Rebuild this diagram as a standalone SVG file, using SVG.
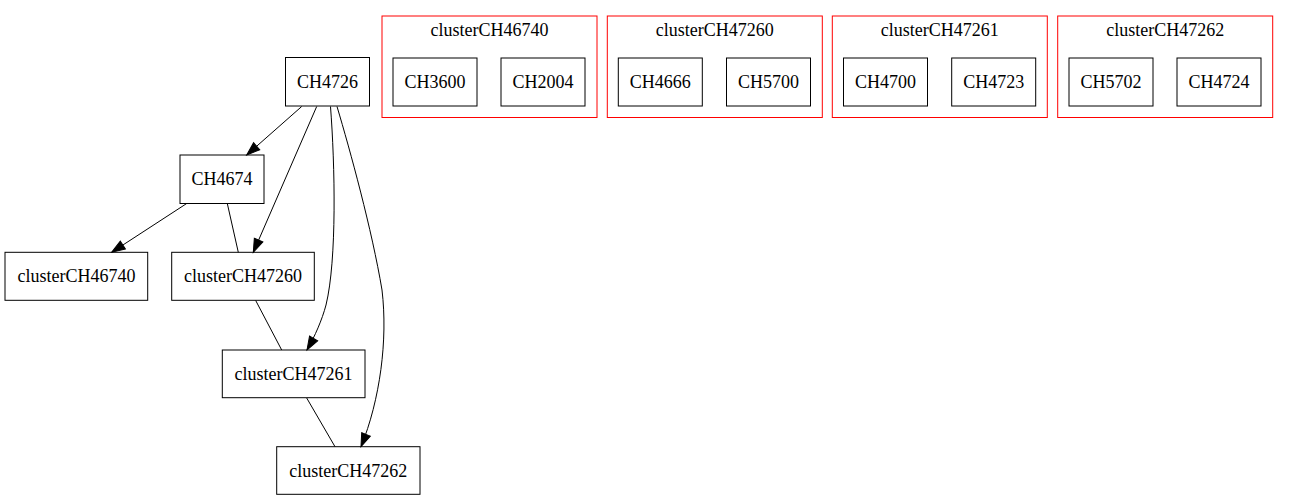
<svg xmlns="http://www.w3.org/2000/svg" width="1289" height="501" viewBox="0 0 1289 501">
<style>
.node rect{fill:none;stroke:#000;stroke-width:1}
.cluster rect{fill:none;stroke:#ff0000;stroke-width:1}
text{font-family:"Liberation Serif",Times,serif;font-size:18px;fill:#000;text-anchor:middle}
.edges path{fill:none;stroke:#000;stroke-width:1}
</style>
<defs>
<marker id="arr" markerUnits="userSpaceOnUse" viewBox="0 0 14 10" markerWidth="14" markerHeight="10" refX="13.3" refY="4.67" orient="auto" overflow="visible">
<path d="M0,0 L13.3,4.67 L0,9.33 z" fill="#000" stroke="#000" stroke-width="1"/>
</marker>
</defs>
<rect width="1289" height="501" fill="#fff"/>

<g id="clusterCH46740" class="cluster">
<rect x="382" y="16" width="215" height="101.5"/>
<text x="489.5" y="36">clusterCH46740</text>
</g>
<g id="clusterCH47260_box" class="cluster">
<rect x="607.3" y="16" width="215" height="101.5"/>
<text x="714.8" y="36">clusterCH47260</text>
</g>
<g id="clusterCH47261_box" class="cluster">
<rect x="832.3" y="16" width="215" height="101.5"/>
<text x="939.8" y="36">clusterCH47261</text>
</g>
<g id="clusterCH47262_box" class="cluster">
<rect x="1057.7" y="16" width="215" height="101.5"/>
<text x="1165.2" y="36">clusterCH47262</text>
</g>

<g id="CH3600" class="node"><rect x="393" y="58" width="84" height="48"/><text x="435" y="88">CH3600</text></g>
<g id="CH2004" class="node"><rect x="501" y="58" width="84" height="48"/><text x="543" y="88">CH2004</text></g>
<g id="CH4666" class="node"><rect x="618.3" y="58" width="84" height="48"/><text x="660.3" y="88">CH4666</text></g>
<g id="CH5700" class="node"><rect x="726.5" y="58" width="84" height="48"/><text x="768.5" y="88">CH5700</text></g>
<g id="CH4700" class="node"><rect x="843.5" y="58" width="84" height="48"/><text x="885.5" y="88">CH4700</text></g>
<g id="CH4723" class="node"><rect x="951.7" y="58" width="84" height="48"/><text x="993.7" y="88">CH4723</text></g>
<g id="CH5702" class="node"><rect x="1069" y="58" width="84" height="48"/><text x="1111" y="88">CH5702</text></g>
<g id="CH4724" class="node"><rect x="1177" y="58" width="84" height="48"/><text x="1219" y="88">CH4724</text></g>

<g id="CH4726" class="node"><rect x="285.5" y="57.5" width="84" height="48.5"/><text x="327.5" y="87.5">CH4726</text></g>
<g id="CH4674" class="node"><rect x="180" y="155" width="84" height="48.5"/><text x="222" y="185">CH4674</text></g>
<g id="n_clusterCH46740" class="node"><rect x="5" y="252.3" width="142.7" height="48"/><text x="76.4" y="282.3">clusterCH46740</text></g>
<g id="n_clusterCH47260" class="node"><rect x="171.7" y="252.3" width="142.6" height="48"/><text x="243" y="282.3">clusterCH47260</text></g>
<g id="n_clusterCH47261" class="node"><rect x="222.3" y="350" width="142.7" height="47.7"/><text x="293.6" y="380">clusterCH47261</text></g>
<g id="n_clusterCH47262" class="node"><rect x="276.7" y="446.7" width="143.3" height="47.6"/><text x="348.3" y="476.7">clusterCH47262</text></g>

<g id="connectors" class="edges">
<path d="M301.7,106.5 L246.7,155" marker-end="url(#arr)"/>
<path d="M316.7,106.5 L253.3,252.3" marker-end="url(#arr)"/>
<path d="M330.5,106.5 C335,165 337,260 326,305 C322,320 315,336 307,350" marker-end="url(#arr)"/>
<path d="M337,106.5 C350,150 372,230 382,290 C388,340 380,400 361,446.7" marker-end="url(#arr)"/>
<path d="M186.7,203.5 L111.7,252.3" marker-end="url(#arr)"/>
<path d="M227.3,203.5 L238.3,252.3"/>
<path d="M255.7,300.5 L281.7,350"/>
<path d="M306.7,398 L335,446.7"/>
</g>
</svg>
